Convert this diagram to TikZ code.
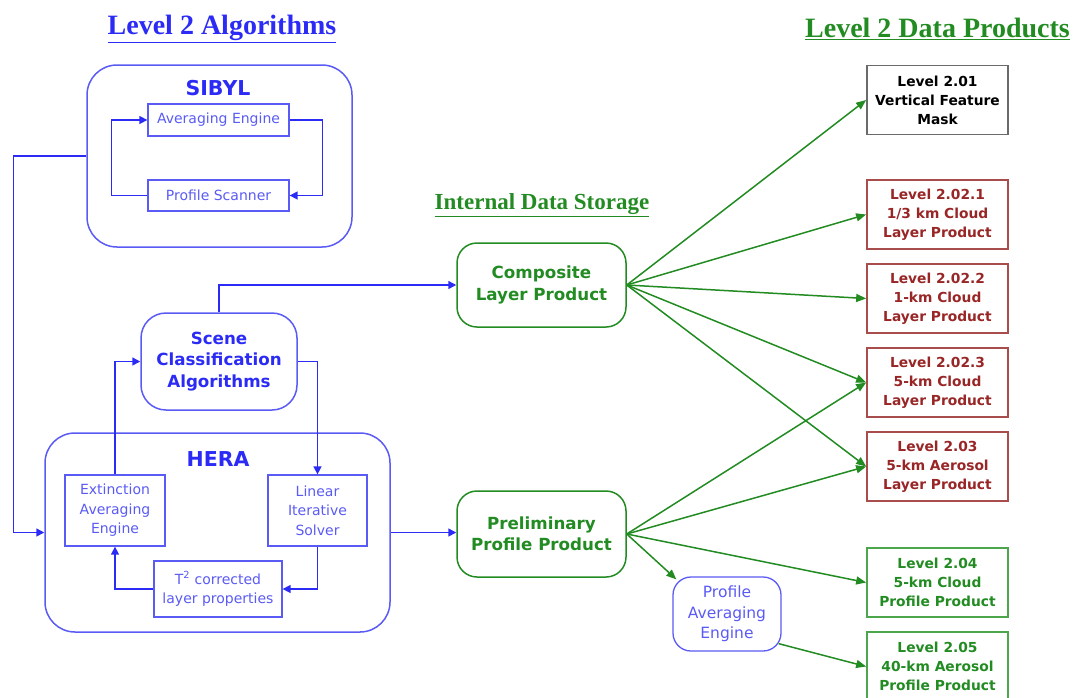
\documentclass[tikz,border=0pt]{standalone}
\usepackage{fontspec}
\setmainfont{DejaVu Sans}
\newfontfamily\titlefont{Liberation Serif}
\usetikzlibrary{arrows.meta}
\definecolor{cblue}{HTML}{2B2BF5}
\definecolor{lblue}{HTML}{5A5AF5}
\definecolor{cgreen}{HTML}{228B22}
\definecolor{lgreen}{HTML}{4CA64C}
\definecolor{dred}{HTML}{992626}
\definecolor{rborder}{HTML}{A84C4C}
\definecolor{gborder}{HTML}{6A6A6A}
\tikzset{
  ttl/.style={font=\titlefont\bfseries\fontsize{28}{32}\selectfont},
  outerbox/.style={draw=lblue, line width=1.5pt, rounded corners=30pt, inner sep=0pt},
  hdr/.style={text=cblue, font=\bfseries\fontsize{20.5}{24}\selectfont},
  innerbox/.style={draw=lblue, line width=1.3pt, inner sep=0pt, align=center, text=lblue,
    font=\fontsize{14}{19.5}\selectfont},
  roundblue/.style={draw=lblue, line width=1.5pt, rounded corners=25pt, inner sep=0pt, align=center,
    text=cblue, font=\bfseries\fontsize{16.7}{21.5}\selectfont},
  roundgreen/.style={draw=cgreen, line width=1.5pt, rounded corners=20pt, inner sep=0pt, align=center,
    text=cgreen, font=\bfseries\fontsize{16.7}{21.5}\selectfont},
  prod/.style={line width=1.7pt, inner sep=0pt, align=center, minimum width=141pt, minimum height=69pt,
    font=\bfseries\fontsize{13.8}{19}\selectfont},
  prodgray/.style={prod, draw=gborder, text=black},
  prodred/.style={prod, draw=rborder, text=dred},
  prodgreen/.style={prod, draw=lgreen, text=cgreen},
  barr/.style={draw=cblue, line width=1.5pt, -{Triangle[length=8pt,width=8pt]}},
  garr/.style={draw=cgreen, line width=1.5pt, -{Triangle[length=10pt,width=8pt]}},
}
\begin{document}
\begin{tikzpicture}[x=1pt,y=-1pt]
\useasboundingbox (0,0) rectangle (1073,697);

% titles
\node[ttl, text=cblue] (t1) at (222,29) {\underline{Level 2 Algorithms}};
\node[ttl, text=cgreen] (t2) at (937.5,29) {\underline{Level 2 Data Products}};
\node[text=cgreen, font=\titlefont\bfseries\fontsize{23}{26}\selectfont] (t3) at (542,205) {\underline{Internal Data Storage}};

% SIBYL
\node[outerbox, minimum width=265pt, minimum height=182pt] (sibyl) at (219.5,156) {};
\node[hdr] (sibylt) at (218,88) {SIBYL};
\node[innerbox, minimum width=141pt, minimum height=32pt] (avg) at (218.5,120) {Averaging Engine};
\node[innerbox, minimum width=141pt, minimum height=31pt] (scan) at (218.5,195.5) {Profile Scanner};
\draw[barr] (avg.east) -- ++(33,0) |- (scan.east);
\draw[barr] (scan.west) -- ++(-36,0) |- (avg.west);

% HERA
\node[outerbox, minimum width=345pt, minimum height=199pt] (hera) at (217.5,532.5) {};
\node[hdr] (herat) at (218,459) {HERA};
\node[innerbox, minimum width=100pt, minimum height=71pt] (ext) at (115,510.5) {Extinction\\Averaging\\Engine};
\node[innerbox, minimum width=99pt, minimum height=71pt] (lin) at (317.5,510.5) {Linear\\Iterative\\Solver};
\node[innerbox, minimum width=128pt, minimum height=56pt] (t2c) at (218,589) {T\textsuperscript{2} corrected\\layer properties};
\draw[barr] (lin.south) |- (t2c.east);
\draw[barr] (t2c.west) -| (ext.south);

% Scene classification
\node[roundblue, minimum width=156pt, minimum height=97pt] (scene) at (219,361.5) {Scene\\Classification\\Algorithms};
\draw[barr] (ext.north) |- (scene.west);
\draw[barr] (scene.east) -| (lin.north);

% SIBYL to HERA
\draw[barr] (sibyl.west) -- ++(-73,0) |- (hera.west);

% internal storage
\node[roundgreen, minimum width=169pt, minimum height=84pt] (comp) at (541.5,285) {Composite\\Layer Product};
\node[roundgreen, minimum width=169pt, minimum height=86pt] (prelim) at (541.5,534) {Preliminary\\Profile Product};
\node[draw=lblue, line width=1.3pt, rounded corners=18pt, inner sep=0pt, align=center, text=lblue,
  font=\fontsize{15.5}{20.5}\selectfont, minimum width=108pt, minimum height=74pt] (pae) at (727,614) {Profile\\Averaging\\Engine};

\draw[barr] (scene.north) |- (comp.west);
\draw[barr] (hera.east) -- (hera.east -| prelim.west);

% products
\node[prodgray] (r1) at (937.5,100) {Level 2.01\\Vertical Feature\\Mask};
\node[prodred] (r2) at (937.5,214.5) {Level 2.02.1\\1/3 km Cloud\\Layer Product};
\node[prodred] (r3) at (937.5,298.5) {Level 2.02.2\\1-km Cloud\\Layer Product};
\node[prodred] (r4) at (937.5,382.5) {Level 2.02.3\\5-km Cloud\\Layer Product};
\node[prodred] (r5) at (937.5,466.5) {Level 2.03\\5-km Aerosol\\Layer Product};
\node[prodgreen] (r6) at (937.5,582.5) {Level 2.04\\5-km Cloud\\Profile Product};
\node[prodgreen] (r7) at (937.5,666.5) {Level 2.05\\40-km Aerosol\\Profile Product};

\foreach \r in {r1,r2,r3,r4,r5} \draw[garr] (comp.east) -- (\r.west);
\foreach \r in {r4,r5,r6} \draw[garr] (prelim.east) -- (\r.west);
\draw[garr] (prelim.east) -- ([shift={(4,3)}]pae.north west);
\draw[garr] ([shift={(-3,-8)}]pae.south east) -- (r7.west);
\end{tikzpicture}
\end{document}
